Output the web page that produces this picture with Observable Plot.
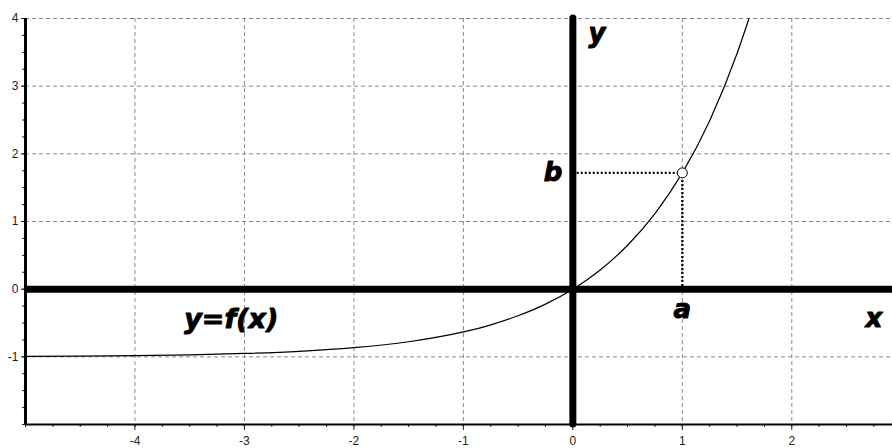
<!DOCTYPE html>
<html>
<head>
<meta charset="utf-8">
<script src="https://cdn.jsdelivr.net/npm/d3@7"></script>
<script src="https://cdn.jsdelivr.net/npm/@observablehq/plot@0.6"></script>
<style>
  html, body { margin: 0; padding: 0; background: #fff; }
  #chart svg { display: block; }
</style>
</head>
<body>
<div id="chart"></div>
<script>
// Tick values for the axes and grid
const xTicks = [-4, -3, -2, -1, 0, 1, 2];
const yTicks = [-1, 0, 1, 2, 3, 4];
const xMinorTicks = d3.range(-5, 2.9, 0.25);
const yMinorTicks = d3.range(-2, 4.01, 0.25);

// Points along the curve y = f(x)
const curveX = [-5, -4.5, -4, -3.5, -3, -2.5, -2, -1.5, -1, -0.75, -0.5, -0.25, 0, 0.25, 0.5, 0.75, 1, 1.25, 1.5, 1.609];
const curveY = [-0.993, -0.989, -0.982, -0.970, -0.950, -0.918, -0.865, -0.777, -0.632, -0.528, -0.393, -0.221, 0, 0.284, 0.649, 1.117, 1.718, 2.490, 3.482, 4.0];

// Marked point (a, b) on the curve
const a = 1;
const b = 1.718;

// Annotation labels and where they sit (data coordinates)
const labelText = ["y", "b", "a", "x"];
const labelX = [0.22, -0.18, a, 2.75];
const labelY = [3.77, b, -0.3, -0.44];
const fnLabel = ["y=f(x)"];
const fnLabelX = [-3.12];
const fnLabelY = [-0.45];

const curve = curveX.map((x, i) => ({x, y: curveY[i]}));
const labels = labelText.map((t, i) => ({t, x: labelX[i], y: labelY[i]}));
const fnLabels = fnLabel.map((t, i) => ({t, x: fnLabelX[i], y: fnLabelY[i]}));

const labelFont = {
  fontFamily: "DejaVu Sans",
  fontWeight: "bold",
  fontStyle: "italic",
  fill: "black",
  stroke: "black",
  strokeWidth: 1
};

const noText = () => "";
const plainNumber = (d) => String(d); // hyphen-minus, as on the axes

const chart = Plot.plot({
  width: 892,
  height: 448,
  marginLeft: 25,
  marginRight: 0,
  marginTop: 18,
  marginBottom: 24,
  x: {domain: [-5, 2.92]},
  y: {domain: [-2, 4]},
  style: {fontFamily: "Liberation Sans", fontSize: "12px", color: "#222", background: "white"},
  marks: [
    // dashed grid
    Plot.gridX({ticks: xTicks, stroke: "#8a8a8a", strokeOpacity: 1, strokeDasharray: "4,3"}),
    Plot.gridY({ticks: yTicks, stroke: "#8a8a8a", strokeOpacity: 1, strokeDasharray: "4,3"}),
    // minor ticks
    Plot.axisX({anchor: "bottom", ticks: xMinorTicks, tickSize: 3, tickFormat: noText, label: null, stroke: "#222"}),
    Plot.axisY({anchor: "left", ticks: yMinorTicks, tickSize: 3, tickFormat: noText, label: null, stroke: "#222"}),
    // major ticks and labels
    Plot.axisX({anchor: "bottom", ticks: xTicks, tickSize: 6, tickPadding: 6, tickFormat: plainNumber, label: null, stroke: "#222", fontSize: 12}),
    Plot.axisY({anchor: "left", ticks: yTicks, tickSize: 4, tickPadding: 3, tickFormat: plainNumber, label: null, stroke: "#222", fontSize: 12}),
    // frame lines on the left and bottom
    Plot.ruleX([-5], {y1: -2, y2: 4, stroke: "black", strokeWidth: 3}),
    Plot.ruleY([-2], {x1: -5, x2: 2.92, stroke: "black", strokeWidth: 2}),
    // the function
    Plot.line(curve, {x: "x", y: "y", curve: "monotone-x", stroke: "black", strokeWidth: 1.2}),
    // coordinate axes through the origin
    Plot.ruleY([0], {x1: -5, x2: 2.92, stroke: "black", strokeWidth: 7}),
    Plot.ruleX([0], {y1: -2, y2: 4, stroke: "black", strokeWidth: 7, strokeLinecap: "round"}),
    // dotted guides to the marked point
    Plot.ruleY([b], {x1: 0.04, x2: a, stroke: "#111", strokeWidth: 2.4, strokeDasharray: "2,2"}),
    Plot.ruleX([a], {y1: 0.04, y2: b, stroke: "#111", strokeWidth: 2.4, strokeDasharray: "2,2"}),
    Plot.dot([{x: a, y: b}], {x: "x", y: "y", r: 5, fill: "white", stroke: "black", strokeWidth: 1}),
    // annotations
    Plot.text(labels, {x: "x", y: "y", text: "t", fontSize: 26, ...labelFont}),
    Plot.text(fnLabels, {x: "x", y: "y", text: "t", fontSize: 27, ...labelFont})
  ]
});

document.getElementById("chart").append(chart);
</script>
</body>
</html>
